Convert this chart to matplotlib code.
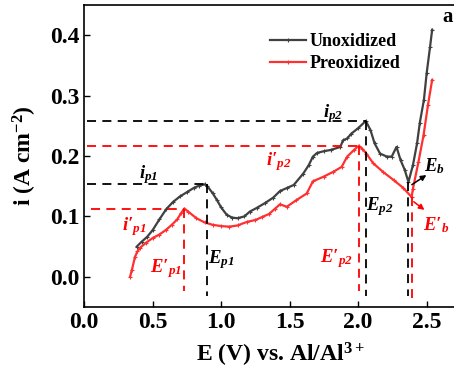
import matplotlib
matplotlib.use("Agg")
import matplotlib.pyplot as plt

# Unoxidized sample
e_unox = [0.385, 0.42, 0.46, 0.50, 0.55, 0.60, 0.65, 0.70, 0.75, 0.80, 0.84, 0.88,
          0.90, 0.94, 0.97, 1.00, 1.04, 1.08, 1.12, 1.17, 1.21, 1.26, 1.32, 1.38,
          1.43, 1.48, 1.53, 1.60, 1.64, 1.67, 1.70, 1.75, 1.80, 1.87, 1.89, 1.92,
          1.95, 2.00, 2.056, 2.09, 2.12, 2.16, 2.21, 2.245, 2.28, 2.31, 2.34, 2.367,
          2.40, 2.43, 2.45, 2.48, 2.50, 2.525, 2.54]
i_unox = [0.050, 0.058, 0.066, 0.077, 0.095, 0.112, 0.124, 0.133, 0.140, 0.147, 0.151, 0.153,
          0.150, 0.138, 0.127, 0.115, 0.103, 0.098, 0.097, 0.100, 0.108, 0.114, 0.122, 0.131,
          0.142, 0.147, 0.152, 0.171, 0.185, 0.199, 0.205, 0.208, 0.210, 0.215, 0.226, 0.229,
          0.237, 0.246, 0.258, 0.243, 0.221, 0.204, 0.199, 0.199, 0.215, 0.193, 0.177, 0.157,
          0.185, 0.221, 0.255, 0.293, 0.337, 0.381, 0.409]

# Preoxidized sample
e_preox = [0.336, 0.35, 0.372, 0.39, 0.409, 0.45, 0.50, 0.55, 0.60, 0.64, 0.68, 0.71,
           0.732, 0.76, 0.82, 0.88, 0.94, 1.00, 1.06, 1.12, 1.19, 1.25, 1.30, 1.35,
           1.39, 1.43, 1.48, 1.55, 1.625, 1.67, 1.75, 1.82, 1.88, 1.92, 1.97, 2.005,
           2.03, 2.06, 2.11, 2.18, 2.26, 2.33, 2.39, 2.40, 2.44, 2.477, 2.51, 2.54]
i_preox = [0.000, 0.012, 0.033, 0.042, 0.048, 0.056, 0.064, 0.070, 0.078, 0.086, 0.095, 0.106,
           0.113, 0.108, 0.097, 0.090, 0.086, 0.084, 0.083, 0.085, 0.091, 0.094, 0.099, 0.104,
           0.112, 0.120, 0.116, 0.127, 0.138, 0.158, 0.166, 0.174, 0.182, 0.199, 0.210, 0.217,
           0.212, 0.204, 0.188, 0.174, 0.160, 0.147, 0.132, 0.146, 0.190, 0.234, 0.285, 0.326]

# characteristic points
ep1, ip1 = 0.895, 0.153
ep1_p, ip1_p = 0.732, 0.112
ep2, ip2 = 2.06, 0.258
ep2_p, ip2_p = 2.005, 0.217
eb, ib = 2.367, 0.157
eb_p, ib_p = 2.39, 0.132

plt.rcParams["font.family"] = "Liberation Serif"
plt.rcParams["font.weight"] = "bold"
plt.rcParams["axes.labelweight"] = "bold"
plt.rcParams["mathtext.fontset"] = "custom"
# subscripts of the peak labels are bold italic, digits included
plt.rcParams["mathtext.rm"] = "Liberation Serif:style=italic:weight=bold"
plt.rcParams["mathtext.it"] = "Liberation Serif:style=italic:weight=bold"
plt.rcParams["mathtext.bf"] = "Liberation Serif:weight=bold"

grey = "#404040"
red = "#ff3030"

fig = plt.figure(figsize=(4.54, 3.76), dpi=100)
ax = fig.add_axes([84 / 454, 69 / 376, 392 / 454, 302 / 376])

ax.plot(e_unox, i_unox, color=grey, lw=1.6, marker="+", ms=3.5, mew=0.8, label="Unoxidized")
ax.plot(e_preox, i_preox, color=red, lw=1.6, marker="+", ms=3.5, mew=0.8, label="Preoxidized")

dash = dict(lw=1.3, dashes=(5, 3.5))
bottom = -0.032
# black guide lines
ax.plot([0.02, ep1], [ip1, ip1], color="k", **dash)
ax.plot([ep1, ep1], [ip1, bottom], color="k", **dash)
ax.plot([0.02, ep2], [ip2, ip2], color="k", **dash)
ax.plot([ep2, ep2], [ip2, bottom], color="k", **dash)
ax.plot([eb, eb], [ib, bottom], color="k", **dash)
# red guide lines
ax.plot([0.05, ep1_p], [ip1_p, ip1_p], color="red", **dash)
ax.plot([ep1_p, ep1_p], [ip1_p, -0.024], color="red", **dash)
ax.plot([0.02, ep2_p], [ip2_p, ip2_p], color="red", **dash)
ax.plot([ep2_p, ep2_p], [ip2_p, -0.024], color="red", **dash)
ax.plot([eb_p, eb_p], [ib_p, -0.035], color="red", **dash)

lab = dict(fontsize=13.5, ha="center", va="center", fontstyle="italic", fontweight="bold")
ax.text(0.47, 0.169, r"i$_{p1}$", color="k", **lab)
ax.text(0.37, 0.083, r"i′$_{p1}$", color="red", **lab)
ax.text(0.60, 0.014, r"E′$_{p1}$", color="red", **lab)
ax.text(1.005, 0.028, r"E$_{p1}$", color="k", **lab)
ax.text(1.82, 0.270, r"i$_{p2}$", color="k", **lab)
ax.text(1.42, 0.190, r"i′$_{p2}$", color="red", **lab)
ax.text(2.16, 0.116, r"E$_{p2}$", color="k", **lab)
ax.text(1.845, 0.031, r"E′$_{p2}$", color="red", **lab)
ax.text(2.56, 0.184, r"E$_{b}$", color="k", **lab)
ax.text(2.57, 0.086, r"E′$_{b}$", color="red", **lab)
ax.text(2.655, 0.430, "a", fontsize=15, ha="center", va="center")

ax.annotate("", xy=(2.515, 0.171), xytext=(2.375, 0.150),
            arrowprops=dict(arrowstyle="-|>", color="k", lw=1.1, mutation_scale=8))
ax.annotate("", xy=(2.50, 0.108), xytext=(2.39, 0.127),
            arrowprops=dict(arrowstyle="-|>", color="red", lw=1.1, mutation_scale=8))

ax.set_xlim(0, 2.86)
ax.set_ylim(-0.05, 0.45)
ax.set_xticks([0.0, 0.5, 1.0, 1.5, 2.0, 2.5])
ax.set_yticks([0.0, 0.1, 0.2, 0.3, 0.4])
ax.tick_params(direction="in", length=4, width=1, labelsize=17)
for s in ax.spines.values():
    s.set_linewidth(1.2)

ax.set_xlabel(r"E (V) vs. Al/Al$^{\mathbf{3+}}$", fontsize=17, labelpad=6)
ax.set_ylabel(r"i (A cm$^{\mathbf{-2}}$)", fontsize=17, labelpad=8)

ax.legend(loc="upper left", bbox_to_anchor=(270 / 454, 1 - 33 / 376),
          bbox_transform=fig.transFigure, frameon=False, fontsize=13,
          handlelength=2.0, handletextpad=0.2, borderpad=0, borderaxespad=0,
          labelspacing=0.3)

fig.savefig("out.png", dpi=100)
